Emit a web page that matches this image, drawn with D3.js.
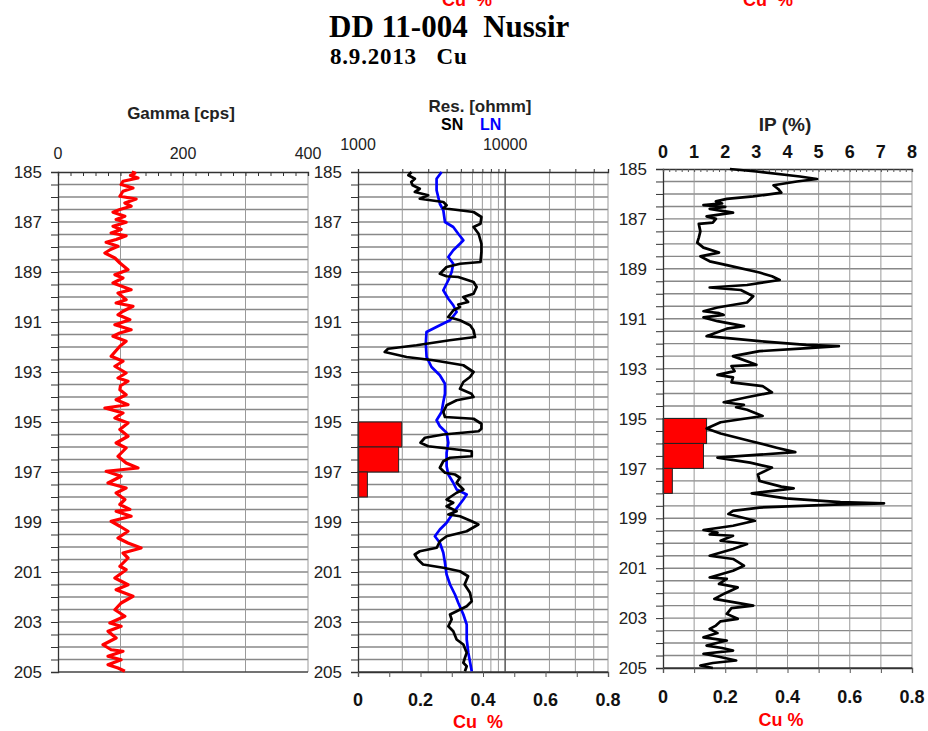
<!DOCTYPE html>
<html>
<head>
<meta charset="utf-8">
<script src="https://cdn.jsdelivr.net/npm/d3@7"></script>
<style>
  body { margin: 0; background: #fff; }
</style>
</head>
<body>
<script>
'use strict';

// depth axis (m)
const depthTicks = [185, 187, 189, 191, 193, 195, 197, 199, 201, 203, 205];

// top axis labels
const gammaTicks = [0, 200, 400];
const resTicks = [1000, 10000];
const resGrid = [2000, 3000, 4000, 5000, 6000, 7000, 8000, 9000, 10000, 20000, 30000, 40000, 50000];
const ipTicks = [0, 1, 2, 3, 4, 5, 6, 7, 8];
const cuTicks = [0, 0.2, 0.4, 0.6, 0.8];
const cuTickLabels = ['0', '0.2', '0.4', '0.6', '0.8'];

// Cu assay intervals
const cuTop = [195, 196, 197];
const cuBottom = [196, 197, 198];
const cuPct = [0.14, 0.13, 0.03];

// gamma log
const gammaDepth = [185.0, 185.04, 185.14, 185.24, 185.37, 185.5, 185.64, 185.77, 185.97, 186.08, 186.24, 186.37,
  186.5, 186.61, 186.77, 186.9, 187.01, 187.17, 187.3, 187.44, 187.55, 187.7, 187.81, 187.97, 188.1, 188.24,
  188.44, 188.64, 188.91, 189.11, 189.24, 189.44, 189.71, 189.84, 190.11, 190.24, 190.37, 190.57, 190.71,
  190.91, 191.11, 191.31, 191.44, 191.57, 191.77, 191.97, 192.17, 192.37, 192.57, 192.77, 193.04, 193.24,
  193.37, 193.55, 193.71, 193.91, 194.11, 194.31, 194.44, 194.64, 194.84, 195.04, 195.3, 195.57, 195.84,
  196.04, 196.37, 196.64, 196.84, 196.97, 197.17, 197.44, 197.64, 197.84, 198.1, 198.3, 198.5, 198.57,
  198.77, 198.97, 199.17, 199.37, 199.64, 199.84, 200.04, 200.24, 200.44, 200.77, 200.91, 201.24, 201.51,
  201.71, 201.97, 202.24, 202.51, 202.77, 203.04, 203.17, 203.37, 203.64, 203.91, 204.11, 204.17, 204.37,
  204.51, 204.71, 204.84, 204.97];
const gammaCps = [118, 123, 116, 128, 104, 101, 120, 104, 99, 125, 107, 117,
  99, 88, 107, 93, 109, 88, 101, 85, 109, 93, 77, 96, 84, 75,
  91, 99, 112, 91, 104, 88, 117, 96, 109, 93, 120, 104, 96,
  115, 91, 117, 99, 88, 109, 99, 92, 85, 104, 91, 109, 96,
  112, 100, 99, 109, 93, 112, 75, 104, 91, 112, 99, 112, 93,
  109, 96, 109, 128, 77, 101, 80, 109, 93, 107, 99, 115, 93,
  117, 85, 99, 112, 96, 112, 133, 104, 112, 99, 109, 91, 112,
  93, 120, 101, 91, 107, 83, 101, 80, 93, 72, 85, 104, 80,
  101, 80, 96, 107];

// short normal resistivity (SN)
const snDepth = [185.0, 185.13, 185.27, 185.4, 185.53, 185.67, 185.8, 185.93, 186.07, 186.2, 186.33, 186.45,
  186.6, 186.8, 187.07, 187.2, 187.47, 187.87, 188.2, 188.6, 188.67, 188.8, 189.07, 189.17, 189.2, 189.4,
  189.6, 189.87, 190.0, 190.2, 190.3, 190.4, 190.53, 190.8, 190.93, 191.13, 191.33, 191.6, 191.73, 191.93,
  192.07, 192.2, 192.4, 192.53, 192.73, 193.0, 193.2, 193.4, 193.67, 193.87, 194.0, 194.13, 194.33, 194.6,
  194.8, 194.87, 195.07, 195.27, 195.37, 195.5, 195.63, 195.83, 195.97, 196.1, 196.17, 196.37, 196.43,
  196.57, 196.83, 197.03, 197.1, 197.23, 197.43, 197.7, 197.83, 198.1, 198.23, 198.37, 198.57, 198.7,
  198.77, 198.97, 199.1, 199.37, 199.57, 199.77, 200.03, 200.17, 200.3, 200.5, 200.7, 200.83, 200.97,
  201.17, 201.5, 201.83, 202.17, 202.37, 202.57, 202.7, 202.9, 203.17, 203.37, 203.7, 203.9, 204.23,
  204.43, 204.63, 204.77, 204.97];
const snOhmm = [2310, 2200, 2435, 2300, 2350, 2630, 2435, 3000, 2630, 3800, 4000, 3800,
  6100, 6900, 6800, 6100, 6600, 6900, 6900, 6800, 4940, 4000, 3600, 4000, 4800, 6100,
  6400, 6100, 5200, 5600, 4800, 4930, 4450, 4100, 4930, 5780, 6100, 6240, 4200, 2500,
  1600, 1520, 2140, 3250, 5200, 6100, 5770, 5200, 4930, 5900, 6100, 4680, 4000, 3800,
  3900, 6100, 6900, 6900, 6600, 3800, 2850, 2660, 3000, 4680, 5930, 5930, 4220,
  3800, 3600, 3900, 4560, 4930, 4680, 5200, 4680, 4000, 4440, 4000, 4680, 4110,
  4930, 5930, 6580, 5480, 4000, 3600, 3430, 2630, 2430, 2550, 2770, 3800, 4930,
  5600, 5300, 5770, 5930, 5480, 4680, 4220, 4330, 4110, 4440, 4680, 5200, 5480,
  5330, 5200, 5480, 5330];

// long normal resistivity (LN)
const lnDepth = [185.0, 185.27, 185.73, 186.27, 186.53, 187.0, 187.2, 187.47, 187.73, 187.87, 188.13, 188.4,
  188.67, 189.0, 189.33, 189.73, 190.07, 190.33, 190.6, 190.93, 191.13, 191.4, 191.87, 192.4, 192.8,
  193.13, 193.47, 193.87, 194.2, 194.6, 194.93, 195.17, 195.43, 195.83, 196.23, 196.77, 197.1, 197.43,
  197.7, 197.9, 198.1, 198.37, 198.63, 199.03, 199.3, 199.57, 199.83, 200.23, 200.63, 201.1, 201.5,
  201.9, 202.23, 202.7, 203.1, 203.7, 204.23, 204.97];
const lnOhmm = [3700, 3420, 3420, 3600, 3800, 3900, 4440, 4800, 5200, 4930, 4440, 4110,
  4440, 4330, 4110, 3800, 4110, 4440, 4680, 4220, 3600, 2920, 2890, 2925, 3160,
  3600, 3900, 3900, 3800, 3700, 3420, 3600, 4000, 4110, 4000, 4000, 4110, 4440,
  4680, 5480, 5200, 4800, 4440, 4000, 3600, 3330, 3600, 3800, 3900, 4000, 4220,
  4560, 4800, 5200, 5480, 5480, 5620, 5930];

// induced polarisation
const ipDepth = [185.0, 185.1, 185.3, 185.4, 185.5, 185.65, 185.8, 185.95, 186.1, 186.2, 186.3, 186.38,
  186.45, 186.52, 186.6, 186.75, 186.9, 187.0, 187.15, 187.2, 187.5, 187.75, 187.95, 188.15, 188.35,
  188.5, 188.7, 188.85, 189.15, 189.3, 189.45, 189.65, 189.75, 189.85, 190.1, 190.35, 190.55, 190.7,
  190.78, 190.85, 190.95, 191.1, 191.3, 191.4, 191.7, 191.9, 192.05, 192.1, 192.2, 192.3, 192.5,
  192.85, 192.9, 193.1, 193.25, 193.35, 193.55, 193.7, 193.95, 194.15, 194.35, 194.45, 194.55, 194.65,
  194.9, 195.15, 195.4, 195.6, 195.9, 196.17, 196.35, 196.45, 196.57, 196.77, 196.97, 197.24, 197.5,
  197.73, 197.8, 198.0, 198.2, 198.35, 198.4, 198.45, 198.57, 198.7, 198.83, 199.1, 199.3, 199.47,
  199.57, 199.65, 199.7, 199.9, 200.03, 200.23, 200.5, 200.63, 200.9, 201.1, 201.37, 201.43, 201.63,
  201.77, 202.0, 202.23, 202.5, 202.6, 202.83, 203.03, 203.13, 203.3, 203.43, 203.6, 203.77, 203.9,
  204.1, 204.2, 204.3, 204.43, 204.55, 204.7, 204.8, 204.9, 205.0];
const ipPct = [2.15, 3.0, 4.4, 4.95, 4.3, 3.55, 3.7, 3.8, 2.9, 2.05, 1.7, 1.9,
  1.3, 2.0, 1.5, 2.25, 1.4, 1.7, 1.6, 1.15, 1.2, 1.15, 1.1, 1.3, 1.8,
  1.2, 1.5, 2.05, 3.1, 3.5, 3.75, 2.7, 1.5, 2.5, 2.9, 2.7, 1.75, 1.3,
  1.8, 1.95, 1.3, 1.75, 2.6, 2.05, 1.4, 3.1, 4.6, 5.65, 4.4, 3.1, 2.25,
  3.0, 2.2, 2.3, 1.75, 2.25, 2.2, 3.2, 3.5, 2.7, 1.95, 2.6, 2.35, 2.7,
  3.2, 1.85, 1.4, 1.85, 2.8, 3.65, 4.25, 3.1, 1.75, 2.8, 3.5, 3.05, 3.1,
  3.8, 4.2, 2.85, 3.95, 5.7, 7.1, 5.5, 3.1, 2.25, 2.1, 2.95, 2.25, 1.3,
  1.75, 1.5, 2.25, 1.85, 2.7, 2.25, 1.5, 2.25, 2.6, 2.25, 1.5, 2.05, 1.8,
  2.4, 2.0, 1.65, 2.9, 2.2, 2.05, 2.4, 1.85, 1.7, 1.5, 1.75, 1.3, 2.05,
  1.4, 1.9, 2.25, 1.3, 1.8, 2.35, 1.6, 1.2, 1.6];

(function() {

  let svgContainer = "";
  const sans = 'Liberation Sans, Arial, sans-serif';
  const serif = 'Liberation Serif, Times New Roman, serif';
  const labelColor = '#222';

  window.onload = function() {
    svgContainer = d3.select('body')
      .append('svg')
      .attr('width', 928)
      .attr('height', 731)
      .style('display', 'block');

    makeTitles();

    // gamma panel
    let y1 = d3.scaleLinear().domain([185, 205]).range([172, 672]);
    let xGamma = d3.scaleLinear().domain([0, 400]).range([58, 308]);
    drawGrid(xGamma, y1, [100, 200, 300, 400]);
    drawDepthAxis(y1, 58);
    drawGammaAxis(xGamma, y1);
    drawCurve(gammaDepth, gammaCps, xGamma, y1, '#f00', 3.2);

    // resistivity panel
    let xRes = d3.scaleLog().domain([1000, 50000]).range([358, 608]);
    let xCu2 = d3.scaleLinear().domain([0, 0.8]).range([358, 608]);
    drawGrid(xRes, y1, resGrid);
    svgContainer.append('line')
      .attr('x1', xRes(10000)).attr('x2', xRes(10000))
      .attr('y1', 172).attr('y2', 672)
      .attr('stroke', '#555').attr('stroke-width', 1.3);
    drawBars(xCu2, y1);
    drawDepthAxis(y1, 358);
    drawResAxis(xRes, y1);
    drawCuAxis(xCu2, 672, 706, 728, 478);
    drawCurve(lnDepth, lnOhmm, xRes, y1, '#0000ff', 2.7);
    drawCurve(snDepth, snOhmm, xRes, y1, '#000', 2.7);

    // IP panel
    let y3 = d3.scaleLinear().domain([185, 205]).range([169, 668]);
    let xIp = d3.scaleLinear().domain([0, 8]).range([663, 912]);
    let xCu3 = d3.scaleLinear().domain([0, 0.8]).range([663, 912]);
    drawGrid(xIp, y3, d3.range(1, 9));
    drawBars(xCu3, y3);
    drawDepthAxis(y3, 663);
    drawIpAxis(xIp, y3);
    drawCuAxis(xCu3, 668, 703, 726, 781);
    drawCurve(ipDepth, ipPct, xIp, y3, '#000', 2.7);
  }

  // title, subtitle and track headers
  function makeTitles() {
    // labels cut by the top edge, as in the original figure
    [467, 768].forEach(function(x) {
      svgContainer.append('text')
        .attr('x', x).attr('y', 6)
        .attr('text-anchor', 'middle')
        .style('font', 'bold 18px ' + sans)
        .style('white-space', 'pre')
        .attr('fill', '#f00')
        .text('Cu  %');
    });

    svgContainer.append('text')
      .attr('x', 329).attr('y', 37)
      .style('font', 'bold 31px ' + serif)
      .style('white-space', 'pre')
      .text('DD 11-004  Nussir');

    svgContainer.append('text')
      .attr('x', 330).attr('y', 64)
      .style('font', 'bold 23px ' + serif)
      .style('letter-spacing', '0.8px')
      .style('white-space', 'pre')
      .text('8.9.2013   Cu');

    svgContainer.append('text')
      .attr('x', 181).attr('y', 119)
      .attr('text-anchor', 'middle')
      .style('font', 'bold 17px ' + sans)
      .attr('fill', labelColor)
      .text('Gamma [cps]');

    svgContainer.append('text')
      .attr('x', 480).attr('y', 112)
      .attr('text-anchor', 'middle')
      .style('font', 'bold 17px ' + sans)
      .attr('fill', labelColor)
      .text('Res. [ohmm]');

    svgContainer.append('text')
      .attr('x', 441).attr('y', 130)
      .style('font', 'bold 16px ' + sans)
      .attr('fill', '#000')
      .text('SN');

    svgContainer.append('text')
      .attr('x', 480).attr('y', 130)
      .style('font', 'bold 16px ' + sans)
      .attr('fill', '#0000ff')
      .text('LN');

    svgContainer.append('text')
      .attr('x', 785).attr('y', 131)
      .attr('text-anchor', 'middle')
      .style('font', 'bold 19px ' + sans)
      .attr('fill', labelColor)
      .text('IP (%)');
  }

  // gridlines every half metre plus vertical lines
  function drawGrid(x, y, vLines) {
    let x0 = x.range()[0];
    let x1 = x.range()[1];
    let g = svgContainer.append('g');

    g.selectAll('.hline')
      .data(d3.range(185.5, 205, 0.5))
      .enter()
      .append('line')
        .attr('x1', x0).attr('x2', x1)
        .attr('y1', function(d) { return y(d); })
        .attr('y2', function(d) { return y(d); })
        .attr('stroke', '#888')
        .attr('stroke-width', 1.4);

    g.selectAll('.vline')
      .data(vLines)
      .enter()
      .append('line')
        .attr('x1', function(d) { return x(d); })
        .attr('x2', function(d) { return x(d); })
        .attr('y1', y.range()[0]).attr('y2', y.range()[1])
        .attr('stroke', '#9a9a9a')
        .attr('stroke-width', 1);

    // bottom border
    g.append('line')
      .attr('x1', x0).attr('x2', x1)
      .attr('y1', y.range()[1]).attr('y2', y.range()[1])
      .attr('stroke', '#444').attr('stroke-width', 1.3);
  }

  // depth axis on the left of each track
  function drawDepthAxis(y, xPos) {
    let axis = d3.axisLeft(y)
      .tickValues(d3.range(185, 205.01, 0.5))
      .tickSize(7)
      .tickFormat('');
    let g = svgContainer.append('g')
      .attr('transform', 'translate(' + xPos + ',0)')
      .call(axis);
    g.select('.domain').attr('stroke', '#333').attr('stroke-width', 1.3);
    g.selectAll('.tick line').attr('stroke', '#333');

    svgContainer.append('g').selectAll('text')
      .data(depthTicks)
      .enter()
      .append('text')
        .attr('x', xPos - 16)
        .attr('y', function(d) { return y(d); })
        .attr('dy', '0.36em')
        .attr('text-anchor', 'end')
        .style('font', '17px ' + sans)
        .attr('fill', labelColor)
        .text(function(d) { return d; });
  }

  // gamma scale on top
  function drawGammaAxis(x, y) {
    let top = y.range()[0];
    let axis = d3.axisBottom(x)
      .tickValues(d3.range(0, 401, 20))
      .tickSize(4)
      .tickFormat('');
    let g = svgContainer.append('g')
      .attr('transform', 'translate(0,' + top + ')')
      .call(axis);
    g.select('.domain').attr('stroke', '#333').attr('stroke-width', 1.3);
    g.selectAll('.tick line').attr('stroke', '#333');

    svgContainer.append('g').selectAll('text')
      .data(gammaTicks)
      .enter()
      .append('text')
        .attr('x', function(d) { return x(d); })
        .attr('y', top - 13)
        .attr('text-anchor', 'middle')
        .style('font', '16px ' + sans)
        .attr('fill', labelColor)
        .text(function(d) { return d; });
  }

  // log resistivity scale on top
  function drawResAxis(x, y) {
    let top = y.range()[0];
    let axis = d3.axisTop(x)
      .tickValues(resGrid.slice(0, -1))
      .tickSize(3)
      .tickFormat('');
    let g = svgContainer.append('g')
      .attr('transform', 'translate(0,' + top + ')')
      .call(axis);
    g.select('.domain').attr('stroke', '#333').attr('stroke-width', 1.3);
    g.selectAll('.tick line').attr('stroke', '#333');

    svgContainer.append('g').selectAll('text')
      .data(resTicks)
      .enter()
      .append('text')
        .attr('x', function(d) { return x(d); })
        .attr('y', top - 22)
        .attr('text-anchor', 'middle')
        .style('font', '16px ' + sans)
        .attr('fill', labelColor)
        .text(function(d) { return d; });
  }

  // IP scale on top
  function drawIpAxis(x, y) {
    let top = y.range()[0];
    let minor = d3.axisBottom(x)
      .tickValues(d3.range(0, 8.01, 0.2))
      .tickSize(3)
      .tickFormat('');
    let g = svgContainer.append('g')
      .attr('transform', 'translate(0,' + top + ')')
      .call(minor);
    g.select('.domain').attr('stroke', '#333').attr('stroke-width', 1.3);
    g.selectAll('.tick line').attr('stroke', '#555');

    svgContainer.append('g').selectAll('text')
      .data(ipTicks)
      .enter()
      .append('text')
        .attr('x', function(d) { return x(d); })
        .attr('y', top - 11)
        .attr('text-anchor', 'middle')
        .style('font', 'bold 18px ' + sans)
        .attr('fill', '#111')
        .text(function(d) { return d; });
  }

  // Cu % scale at the bottom
  function drawCuAxis(x, bottom, labelY, titleY, titleX) {
    let axis = d3.axisBottom(x)
      .tickValues(d3.range(0, 0.81, 0.1))
      .tickSize(5)
      .tickFormat('');
    let g = svgContainer.append('g')
      .attr('transform', 'translate(0,' + bottom + ')')
      .call(axis);
    g.select('.domain').attr('stroke', '#333').attr('stroke-width', 1.3);
    g.selectAll('.tick line').attr('stroke', '#555');

    svgContainer.append('g').selectAll('text')
      .data(cuTicks)
      .enter()
      .append('text')
        .attr('x', function(d) { return x(d); })
        .attr('y', labelY)
        .attr('text-anchor', 'middle')
        .style('font', 'bold 18px ' + sans)
        .attr('fill', '#111')
        .text(function(d, i) { return cuTickLabels[i]; });

    svgContainer.append('text')
      .attr('x', titleX).attr('y', titleY)
      .attr('text-anchor', 'middle')
      .style('font', 'bold 18px ' + sans)
      .style('white-space', 'pre')
      .attr('fill', '#f00')
      .text(titleX < 600 ? 'Cu  %' : 'Cu %');
  }

  // red assay bars
  function drawBars(x, y) {
    svgContainer.append('g').selectAll('rect')
      .data(cuPct)
      .enter()
      .append('rect')
        .attr('x', x(0))
        .attr('y', function(d, i) { return y(cuTop[i]); })
        .attr('width', function(d) { return x(d) - x(0); })
        .attr('height', function(d, i) { return y(cuBottom[i]) - y(cuTop[i]); })
        .attr('fill', '#f00')
        .attr('stroke', '#222')
        .attr('stroke-width', 1);
  }

  // log curve from depth/value arrays
  function drawCurve(depth, values, x, y, color, width) {
    let line = d3.line()
      .x(function(d) { return x(d[1]); })
      .y(function(d) { return y(d[0]); });
    svgContainer.append('path')
      .datum(d3.zip(depth, values))
      .attr('d', line)
      .attr('fill', 'none')
      .attr('stroke', color)
      .attr('stroke-width', width)
      .attr('stroke-linejoin', 'round');
  }

})();
</script>
</body>
</html>
